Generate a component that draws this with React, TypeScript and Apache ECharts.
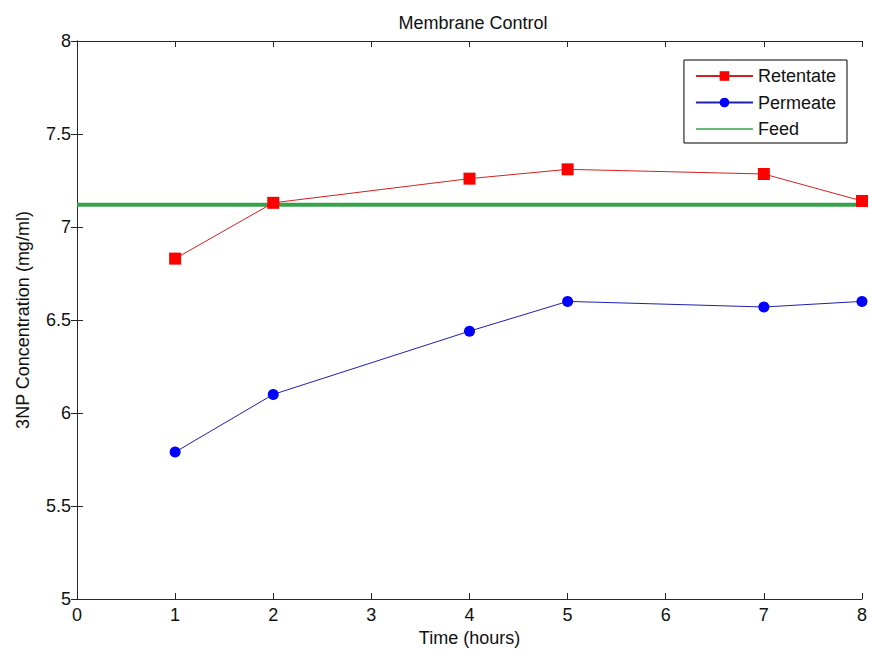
import React, { useEffect, useRef } from "react";
import * as echarts from "echarts";

const hours = [1, 2, 4, 5, 7, 8];
const retentate = [6.83, 7.13, 7.26, 7.31, 7.285, 7.14];
const permeate = [5.79, 6.1, 6.44, 6.6, 6.57, 6.6];
const feedX = [0, 8];
const feedY = [7.12, 7.12];

export default function App() {
  const ref = useRef<HTMLDivElement>(null);
  useEffect(() => {
    if (!ref.current) return;
    const chart = echarts.init(ref.current, undefined, { renderer: "svg" });
    const font = "Arial, 'Liberation Sans', sans-serif";
    const axisCommon = {
      type: "value" as const,
      axisLine: { show: true, lineStyle: { color: "#262626", width: 1 } },
      axisTick: { show: true, inside: true, length: 6, lineStyle: { color: "#262626" } },
      splitLine: { show: false },
    };
    chart.setOption({
      animation: false,
      backgroundColor: "#ffffff",
      title: {
        text: "Membrane Control",
        left: 468,
        textAlign: "center",
        top: 9,
        textStyle: { fontFamily: font, fontSize: 18, fontWeight: "normal", color: "#111" },
      },
      grid: { left: 77, right: 8, top: 41, bottom: 55 },
      legend: {
        orient: "vertical",
        right: 23,
        top: 60,
        backgroundColor: "#fff",
        borderColor: "#000",
        borderWidth: 1,
        borderRadius: 0,
        padding: [7, 11, 5, 11],
        itemWidth: 57,
        itemHeight: 12,
        itemGap: 8.5,
        textStyle: { fontFamily: font, fontSize: 18, lineHeight: 18, color: "#111" },
        data: [
          "Retentate",
          "Permeate",
          { name: "Feed", icon: "path://M0,0 L57,0 L57,1.5 L0,1.5 Z" },
        ],
      },
      xAxis: [
        {
          ...axisCommon,
          min: 0,
          max: 8,
          interval: 1,
          position: "bottom",
          name: "Time (hours)",
          nameLocation: "middle",
          nameGap: 28,
          nameTextStyle: { fontFamily: font, fontSize: 18, color: "#111" },
          axisLabel: { fontFamily: font, fontSize: 18, color: "#111", margin: 7 },
        },
        {
          ...axisCommon,
          min: 0,
          max: 8,
          interval: 1,
          position: "top",
          axisLabel: { show: false },
        },
      ],
      yAxis: [
        {
          ...axisCommon,
          min: 5,
          max: 8,
          interval: 0.5,
          position: "left",
          name: "3NP Concentration (mg/ml)",
          nameLocation: "middle",
          nameGap: 45,
          nameTextStyle: { fontFamily: font, fontSize: 18, color: "#111" },
          axisLabel: { fontFamily: font, fontSize: 18, color: "#111", margin: 6 },
        },
        {
          ...axisCommon,
          min: 5,
          max: 8,
          interval: 0.5,
          position: "right",
          axisLabel: { show: false },
        },
      ],
      series: [
        {
          name: "Feed",
          type: "line",
          data: feedX.map((x, i) => [x, feedY[i]]),
          symbol: "none",
          lineStyle: { color: "#36a24a", width: 4 },
          itemStyle: { color: "#36a24a" },
          z: 1,
        },
        {
          name: "Retentate",
          type: "line",
          data: hours.map((x, i) => [x, retentate[i]]),
          symbol: "rect",
          symbolSize: 12,
          lineStyle: { color: "#d42020", width: 1 },
          itemStyle: { color: "#ff0000" },
          z: 3,
        },
        {
          name: "Permeate",
          type: "line",
          data: hours.map((x, i) => [x, permeate[i]]),
          symbol: "circle",
          symbolSize: 11,
          lineStyle: { color: "#2020b0", width: 1 },
          itemStyle: { color: "#0000ff" },
          z: 3,
        },
      ],
    });
    return () => chart.dispose();
  }, []);
  return (
    <div
      ref={ref}
      style={{ position: "fixed", left: 0, top: 0, width: 870, height: 654 }}
    />
  );
}
